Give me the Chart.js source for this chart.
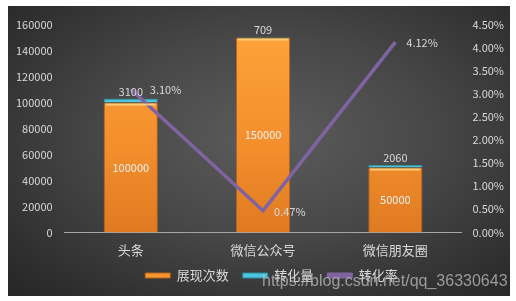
<!DOCTYPE html>
<html>
<head>
<meta charset="utf-8">
<script src="https://cdn.jsdelivr.net/npm/chart.js@4"></script>
<style>
  html, body { margin: 0; padding: 0; background: #ffffff; }
  #wrap {
    position: absolute; left: 8px; top: 6px; width: 502px; height: 290px;
    background: radial-gradient(ellipse at 52% 45%, #5c5c5c 0%, #474747 45%, #2e2e2e 85%, #262626 100%);
  }
  #chart { position: absolute; left: 0; top: 0; }
  #mark {
    position: absolute; left: 262px; top: 272px;
    font-family: "Liberation Sans", Arial, sans-serif; font-size: 16px;
    color: rgba(190, 190, 190, 0.75); white-space: nowrap;
  }
</style>
</head>
<body>
<div id="wrap"><canvas id="chart" width="502" height="290"></canvas></div>
<div id="mark">https://blog.csdn.net/qq_36330643</div>
<script>
const categories = ["头条", "微信公众号", "微信朋友圈"];
const showCount = [100000, 150000, 50000];     // 展现次数
const convertCount = [3100, 709, 2060];        // 转化量
const convertRate = [3.10, 0.47, 4.12];        // 转化率 (%)

const textColor = "#d9d9d9";
const fontFamily = "'Microsoft YaHei', 'Noto Sans CJK SC', sans-serif";

// orange bar gradient
function orangeFill(context) {
  const chart = context.chart;
  const area = chart.chartArea;
  if (!area) return "#f7962e";
  const g = chart.ctx.createLinearGradient(0, area.top, 0, area.bottom);
  g.addColorStop(0, "#ffa43a");
  g.addColorStop(0.6, "#f28e2c");
  g.addColorStop(1, "#e07a22");
  return g;
}

// Helper: bevel highlight on bar tops + value labels
const labelPlugin = {
  id: "valueLabels",
  afterLayout(chart) {
    // nudge legend a bit to the right, like the original
    chart.legend.left += 12;
    chart.legend.right += 12;
  },
  afterDatasetsDraw(chart) {
    const ctx = chart.ctx;
    ctx.save();

    const m0 = chart.getDatasetMeta(0);
    const m1 = chart.getDatasetMeta(1);
    m0.data.forEach((bar) => {
      ctx.fillStyle = "rgba(255, 214, 130, 0.85)";
      ctx.fillRect(bar.x - bar.width / 2 + 2, bar.y + 1, bar.width - 4, 2);
    });

    ctx.font = "11px " + fontFamily;
    ctx.textBaseline = "middle";

    // 展现次数 inside bar, centered
    m0.data.forEach((bar, i) => {
      ctx.textAlign = "center";
      ctx.fillStyle = "#f2f2f2";
      ctx.fillText(showCount[i], bar.x, (bar.y + bar.base) / 2);
    });

    // 转化量 above the stacked bar
    m1.data.forEach((bar, i) => {
      ctx.textAlign = "center";
      ctx.fillStyle = textColor;
      ctx.fillText(convertCount[i], bar.x, bar.y - 7);
    });

    // 转化率 right of point
    const offsets = [19, 11, 11];
    const m2 = chart.getDatasetMeta(2);
    m2.data.forEach((pt, i) => {
      ctx.textAlign = "left";
      ctx.fillStyle = textColor;
      ctx.fillText(convertRate[i].toFixed(2) + "%", pt.x + offsets[i], pt.y + 1);
    });
    ctx.restore();
  }
};

new Chart(document.getElementById("chart"), {
  type: "bar",
  data: {
    labels: categories,
    datasets: [
      {
        label: "展现次数",
        data: showCount,
        backgroundColor: orangeFill,
        borderColor: "#b8621c",
        borderWidth: 1,
        barPercentage: 0.41,
        categoryPercentage: 1,
        stack: "s",
        yAxisID: "y",
        order: 2,
      },
      {
        label: "转化量",
        data: convertCount,
        backgroundColor: "#4cc6dd",
        borderColor: "#2a8aa0",
        borderWidth: 1,
        barPercentage: 0.41,
        categoryPercentage: 1,
        stack: "s",
        yAxisID: "y",
        order: 2,
      },
      {
        type: "line",
        label: "转化率",
        data: convertRate,
        borderColor: "#8064a2",
        backgroundColor: "#8064a2",
        borderWidth: 3.5,
        pointRadius: 0,
        tension: 0,
        yAxisID: "y1",
        order: 1,
      },
    ],
  },
  options: {
    responsive: false,
    animation: false,
    layout: { padding: { left: -4, right: -5, top: 4, bottom: 4 } },
    plugins: {
      legend: {
        position: "bottom",
        labels: {
          color: textColor,
          font: { size: 13, family: fontFamily },
          boxWidth: 25,
          boxHeight: 5,
          padding: 1,
          generateLabels(chart) {
            const fills = ["#f7962e", "#4cc6dd", "#8064a2"];
            const borders = ["#b8621c", "#2a8aa0", "#8064a2"];
            return chart.data.datasets.map((ds, i) => ({
              text: i < 2 ? ds.label + "\u3000" : ds.label,
              fillStyle: fills[i],
              strokeStyle: borders[i],
              lineWidth: 1,
              fontColor: textColor,
              datasetIndex: i,
            }));
          },
        },
      },
      tooltip: { enabled: false },
    },
    scales: {
      x: {
        stacked: true,
        grid: { display: false, drawTicks: false },
        border: { color: "#a6a6a6", width: 1 },
        ticks: { color: textColor, font: { size: 13, family: fontFamily }, padding: 10 },
      },
      y: {
        stacked: true,
        position: "left",
        min: 0,
        max: 160000,
        grid: { display: false, drawTicks: false },
        border: { display: false },
        ticks: {
          stepSize: 20000,
          color: textColor,
          font: { size: 11, family: fontFamily },
          padding: 12,
          callback: (v) => String(v),
        },
      },
      y1: {
        position: "right",
        min: 0,
        max: 4.5,
        grid: { display: false, drawTicks: false },
        border: { display: false },
        ticks: {
          stepSize: 0.5,
          color: textColor,
          font: { size: 11, family: fontFamily },
          padding: 11,
          callback: (v) => v.toFixed(2) + "%",
        },
      },
    },
  },
  plugins: [labelPlugin],
});
</script>
</body>
</html>
